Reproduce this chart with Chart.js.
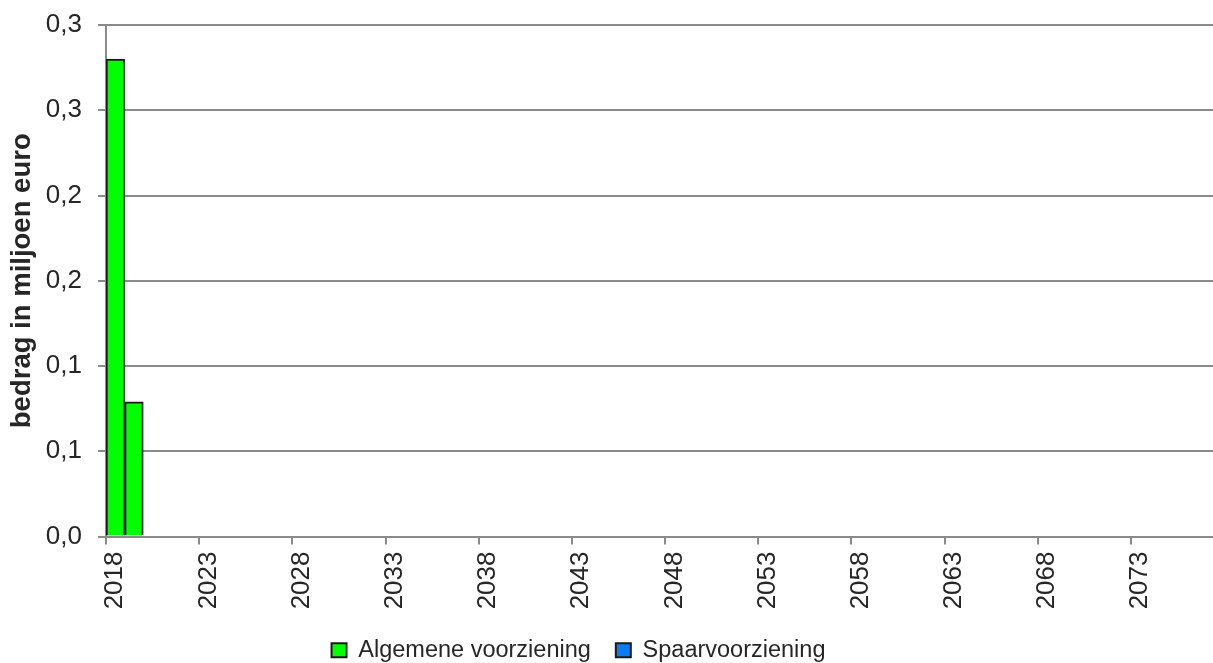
<!DOCTYPE html>
<html>
<head>
<meta charset="utf-8">
<script src="https://cdn.jsdelivr.net/npm/chart.js@4/dist/chart.umd.min.js"></script>
<style>
  html, body { margin: 0; padding: 0; background: #fff; overflow: hidden; width: 1213px; height: 663px; }
  /* the plot runs on past the right edge of the page, so the canvas is wider than the window */
  #wrap { position: absolute; left: -96px; top: -7px; width: 1349px; height: 679px; }
</style>
</head>
<body>
<div id="wrap"><canvas id="c" width="1349" height="679"></canvas></div>
<script>
// Years on the category axis
const years = [
  2018, 2019, 2020, 2021, 2022, 2023, 2024, 2025, 2026, 2027,
  2028, 2029, 2030, 2031, 2032, 2033, 2034, 2035, 2036, 2037,
  2038, 2039, 2040, 2041, 2042, 2043, 2044, 2045, 2046, 2047,
  2048, 2049, 2050, 2051, 2052, 2053, 2054, 2055, 2056, 2057,
  2058, 2059, 2060, 2061, 2062, 2063, 2064, 2065, 2066, 2067,
  2068, 2069, 2070, 2071, 2072, 2073, 2074, 2075, 2076, 2077
];

// Amounts in million euro per year
const algemeneVoorziening = [
  0.28, 0.079, 0, 0, 0, 0, 0, 0, 0, 0,
  0, 0, 0, 0, 0, 0, 0, 0, 0, 0,
  0, 0, 0, 0, 0, 0, 0, 0, 0, 0,
  0, 0, 0, 0, 0, 0, 0, 0, 0, 0,
  0, 0, 0, 0, 0, 0, 0, 0, 0, 0,
  0, 0, 0, 0, 0, 0, 0, 0, 0, 0
];
const spaarvoorziening = [
  0, 0, 0, 0, 0, 0, 0, 0, 0, 0,
  0, 0, 0, 0, 0, 0, 0, 0, 0, 0,
  0, 0, 0, 0, 0, 0, 0, 0, 0, 0,
  0, 0, 0, 0, 0, 0, 0, 0, 0, 0,
  0, 0, 0, 0, 0, 0, 0, 0, 0, 0,
  0, 0, 0, 0, 0, 0, 0, 0, 0, 0
];

// Value axis labels (one decimal, Dutch comma)
const yTickLabels = ['0,0', '0,1', '0,1', '0,2', '0,2', '0,3', '0,3'];
const yearLabelStep = 5;

const FONT = "'Liberation Sans', Arial, sans-serif";
const TEXT = '#262626';
const GRID = '#8a8a8a';

new Chart(document.getElementById('c'), {
  type: 'bar',
  data: {
    labels: years,
    datasets: [
      {
        label: 'Algemene voorziening',
        data: algemeneVoorziening,
        backgroundColor: '#00ff00',
        borderColor: '#1a1a1a',
        borderWidth: 2,
        barPercentage: 1,
        categoryPercentage: 1
      },
      {
        label: 'Spaarvoorziening',
        data: spaarvoorziening,
        backgroundColor: '#0a7cf5',
        borderColor: '#1a1a1a',
        borderWidth: 2,
        barPercentage: 1,
        categoryPercentage: 1
      }
    ]
  },
  options: {
    responsive: false,
    animation: false,
    layout: { autoPadding: false, padding: { top: 32, right: 0, bottom: 0, left: 0 } },
    scales: {
      x: {
        stacked: true,
        offset: true,
        grid: {
          offset: true,
          drawOnChartArea: false,
          drawTicks: true,
          tickLength: 8,
          lineWidth: 2,
          color: (ctx) => (ctx.index % yearLabelStep === 0 ? GRID : 'rgba(0,0,0,0)')
        },
        border: { color: GRID, width: 2 },
        ticks: {
          autoSkip: false,
          maxRotation: 90,
          minRotation: 90,
          padding: 7,
          color: TEXT,
          font: { family: FONT, size: 26 },
          callback: (v, i) => (i % yearLabelStep === 0 ? String(years[i]) : '')
        },
        afterFit: (s) => { s.height = 77; }
      },
      y: {
        stacked: true,
        min: 0,
        max: 0.3,
        ticks: {
          stepSize: 0.05,
          padding: 16,
          color: TEXT,
          font: { family: FONT, size: 26 },
          callback: (v, i) => yTickLabels[i]
        },
        grid: { color: GRID, lineWidth: 2, tickLength: 8, drawTicks: true },
        border: { color: GRID, width: 2 },
        title: {
          display: true,
          text: 'bedrag in miljoen euro',
          color: TEXT,
          font: { family: FONT, size: 27.5, weight: 'bold' },
          padding: { top: 102, bottom: 0 }
        },
        afterFit: (s) => { s.width = 202; }
      }
    },
    plugins: {
      legend: {
        position: 'bottom',
        labels: {
          boxWidth: 15,
          boxHeight: 14,
          padding: 25,
          color: TEXT,
          font: { family: FONT, size: 23.5 }
        }
      },
      tooltip: { enabled: false }
    }
  }
});
</script>
</body>
</html>
